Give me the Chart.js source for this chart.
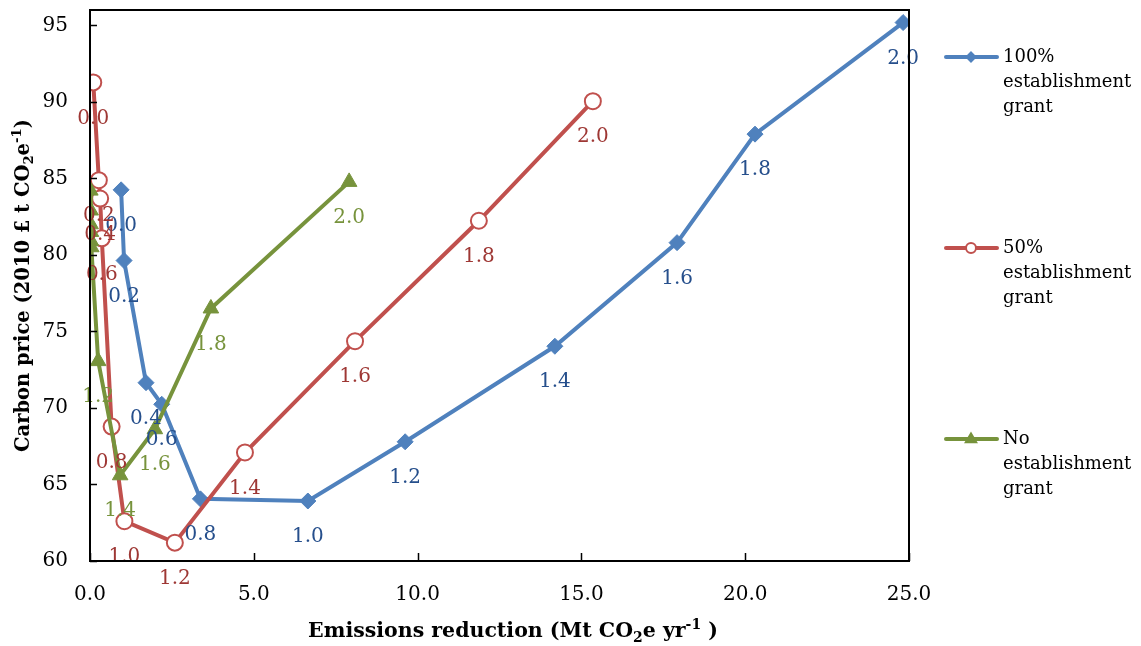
<!DOCTYPE html>
<html>
<head>
<meta charset="utf-8">
<script src="https://cdn.jsdelivr.net/npm/chart.js@4.4.1/dist/chart.umd.min.js"></script>
<style>
html,body{margin:0;padding:0;background:#fff;}
#wrap{width:1141px;height:646px;position:relative;}
</style>
</head>
<body>
<div id="wrap"><canvas id="c" width="1141" height="646"></canvas></div>
<script>
// Grant rate labels attached to each point
const rateLabels = ['0.0','0.2','0.4','0.6','0.8','1.0','1.2','1.4','1.6','1.8','2.0'];

// 100% establishment grant
const fullX = [0.95, 1.04, 1.71, 2.19, 3.37, 6.65, 9.62, 14.19, 17.92, 20.30, 24.82];
const fullY = [84.25, 79.63, 71.65, 70.24, 64.06, 63.92, 67.79, 74.03, 80.80, 87.89, 95.18];

// 50% establishment grant
const halfX = [0.10, 0.27, 0.31, 0.36, 0.66, 1.05, 2.59, 4.73, 8.09, 11.87, 15.35];
const halfY = [91.27, 84.88, 83.68, 81.08, 68.78, 62.60, 61.20, 67.09, 74.36, 82.23, 90.04];

// No establishment grant
const noneX = [0.01, 0.02, 0.02, 0.03, 0.03, 0.04, 0.25, 0.92, 1.98, 3.69, 7.91];
const noneY = [84.20, 82.90, 82.00, 81.50, 80.90, 80.50, 73.06, 65.60, 68.61, 76.50, 84.77];
const noneLabelShown = [false,false,false,false,false,false,true,true,true,true,true];

// Axis tick values
const xTicks = [0, 5, 10, 15, 20, 25];
const yTicks = [60, 65, 70, 75, 80, 85, 90, 95];

const seriesNames = [
  ['100%','establishment','grant'],
  ['50%','establishment','grant'],
  ['No','establishment','grant']
];

const SERIF = '"DejaVu Serif", "Liberation Serif", serif';

function pts(xs, ys){ return xs.map((x,i)=>({x:x, y:ys[i]})); }

const datasets = [
  {
    label: seriesNames[0].join(' '),
    legendLines: seriesNames[0],
    data: pts(fullX, fullY),
    borderColor: '#4F81BD', backgroundColor: '#4F81BD',
    pointStyle: 'rectRot', pointRadius: 8, pointBorderWidth: 1,
    pointBackgroundColor: '#4F81BD', pointBorderColor: '#4F81BD',
    legendRadius: 4.5, legendFill: '#4F81BD',
    labelColor: '#264F8C',
    labelsShown: rateLabels.map(()=>true),
    borderWidth: 4, order: 3
  },
  {
    label: seriesNames[1].join(' '),
    legendLines: seriesNames[1],
    data: pts(halfX, halfY),
    borderColor: '#C0504D', backgroundColor: '#C0504D',
    pointStyle: 'circle', pointRadius: 8, pointBorderWidth: 2,
    pointBackgroundColor: '#FFFFFF', pointBorderColor: '#C0504D',
    legendRadius: 5, legendFill: '#FFFFFF',
    labelColor: '#9E3734',
    labelsShown: rateLabels.map(()=>true),
    borderWidth: 4, order: 2
  },
  {
    label: seriesNames[2].join(' '),
    legendLines: seriesNames[2],
    data: pts(noneX, noneY),
    borderColor: '#77933C', backgroundColor: '#77933C',
    pointStyle: 'triangle', pointRadius: 9, pointBorderWidth: 1,
    pointBackgroundColor: '#77933C', pointBorderColor: '#77933C',
    legendRadius: 5.5, legendFill: '#77933C',
    labelColor: '#77933C',
    labelsShown: noneLabelShown,
    borderWidth: 4, order: 1
  }
];

function drawMarker(ctx, style, x, y, r, fill, stroke, lw){
  ctx.save();
  ctx.beginPath();
  if (style === 'rectRot') {
    ctx.moveTo(x, y - r); ctx.lineTo(x + r, y); ctx.lineTo(x, y + r); ctx.lineTo(x - r, y); ctx.closePath();
  } else if (style === 'triangle') {
    ctx.moveTo(x, y - r); ctx.lineTo(x + r * 0.95, y + r * 0.6); ctx.lineTo(x - r * 0.95, y + r * 0.6); ctx.closePath();
  } else {
    ctx.arc(x, y, r, 0, Math.PI * 2);
  }
  ctx.fillStyle = fill; ctx.fill();
  ctx.lineWidth = lw; ctx.strokeStyle = stroke; ctx.stroke();
  ctx.restore();
}

// draw text made of segments: {t, m} m: 0 normal, -1 subscript, 1 superscript
function richWidth(ctx, segs, size, weight){
  let w = 0;
  segs.forEach(s => {
    const fs = s.m ? size * 0.68 : size;
    ctx.font = weight + ' ' + fs + 'px ' + SERIF;
    w += ctx.measureText(s.t).width;
  });
  return w;
}
function drawRich(ctx, segs, cx, cy, size, weight){
  const w = richWidth(ctx, segs, size, weight);
  let x = cx - w / 2;
  ctx.textBaseline = 'alphabetic';
  ctx.textAlign = 'left';
  const base = cy + size * 0.35;
  segs.forEach(s => {
    const fs = s.m ? size * 0.68 : size;
    ctx.font = weight + ' ' + fs + 'px ' + SERIF;
    let y = base;
    if (s.m === -1) y = base + size * 0.22;
    if (s.m === 1) y = base - size * 0.42;
    ctx.fillText(s.t, x, y);
    x += ctx.measureText(s.t).width;
  });
}

const xTitle = [{t:'Emissions reduction (Mt CO',m:0},{t:'2',m:-1},{t:'e yr',m:0},{t:'-1',m:1},{t:' )',m:0}];
const yTitle = [{t:'Carbon price (2010 £ t CO',m:0},{t:'2',m:-1},{t:'e',m:0},{t:'-1',m:1},{t:')',m:0}];

const decor = {
  id: 'decor',
  afterDatasetsDraw(chart){
    const ctx = chart.ctx;
    // point labels
    ctx.save();
    ctx.font = '20px ' + SERIF;
    ctx.textAlign = 'center';
    ctx.textBaseline = 'middle';
    chart.data.datasets.forEach((ds, i) => {
      const meta = chart.getDatasetMeta(i);
      ctx.fillStyle = ds.labelColor;
      meta.data.forEach((el, j) => {
        if (!ds.labelsShown[j]) return;
        ctx.fillText(rateLabels[j], el.x, el.y + 36);
      });
    });
    ctx.restore();
  },
  afterDraw(chart){
    const ctx = chart.ctx;
    const a = chart.chartArea;
    const xs = chart.scales.x, ys = chart.scales.y;
    ctx.save();
    // plot border
    ctx.strokeStyle = '#000';
    ctx.lineWidth = 2;
    ctx.strokeRect(a.left, a.top, a.right - a.left, a.bottom - a.top);
    // inward tick marks
    ctx.beginPath();
    xTicks.forEach(v => {
      const px = Math.round(xs.getPixelForValue(v)) + 0.5;
      ctx.moveTo(px, a.bottom); ctx.lineTo(px, a.bottom - 8);
    });
    yTicks.forEach(v => {
      const py = Math.round(ys.getPixelForValue(v)) + 0.5;
      ctx.moveTo(a.left, py); ctx.lineTo(a.left + 7, py);
    });
    ctx.lineWidth = 1.5;
    ctx.stroke();
    // axis titles
    ctx.fillStyle = '#000';
    drawRich(ctx, xTitle, 513, 630, 20.5, 'bold');
    ctx.save();
    ctx.translate(22, (a.top + a.bottom) / 2);
    ctx.rotate(-Math.PI / 2);
    drawRich(ctx, yTitle, 0, 0, 19.5, 'bold');
    ctx.restore();
    // legend
    const legendY = [57, 248, 439];
    chart.data.datasets.forEach((ds, i) => {
      const y = legendY[i];
      ctx.beginPath();
      ctx.moveTo(946, y); ctx.lineTo(997, y);
      ctx.lineWidth = 4; ctx.lineCap = 'round';
      ctx.strokeStyle = ds.borderColor; ctx.stroke();
      drawMarker(ctx, ds.pointStyle, 971, y, ds.legendRadius, ds.legendFill, ds.borderColor, 2);
      ctx.fillStyle = '#000';
      ctx.font = '18px ' + SERIF;
      ctx.textAlign = 'left';
      ctx.textBaseline = 'middle';
      ds.legendLines.forEach((line, k) => {
        ctx.fillText(line, 1003, y + k * 25);
      });
    });
    ctx.restore();
  }
};

new Chart(document.getElementById('c'), {
  type: 'scatter',
  data: { datasets: datasets.map(d => Object.assign({ showLine: true, fill: false, tension: 0 }, d)) },
  options: {
    responsive: false,
    animation: false,
    layout: { padding: { left: 0, right: 232, top: 8, bottom: 0 } },
    plugins: { legend: { display: false }, tooltip: { enabled: false }, title: { display: false } },
    scales: {
      x: {
        type: 'linear', min: 0, max: 25,
        afterFit(s){ s.height = 85; s.paddingLeft = 0; s.paddingRight = 0; },
        afterBuildTicks(s){ s.ticks = xTicks.map(v => ({ value: v })); },
        grid: { display: false, drawTicks: false },
        border: { display: false },
        ticks: { padding: 22, color: '#000', font: { family: SERIF, size: 20 }, callback: v => Number(v).toFixed(1), maxRotation: 0 }
      },
      y: {
        type: 'linear', min: 60, max: 96,
        afterFit(s){ s.width = 90; s.paddingTop = 0; s.paddingBottom = 0; },
        afterBuildTicks(s){ s.ticks = yTicks.map(v => ({ value: v })); },
        grid: { display: false, drawTicks: false },
        border: { display: false },
        ticks: { padding: 22, color: '#000', font: { family: SERIF, size: 20 }, callback: v => String(v) }
      }
    }
  },
  plugins: [decor]
});
</script>
</body>
</html>
